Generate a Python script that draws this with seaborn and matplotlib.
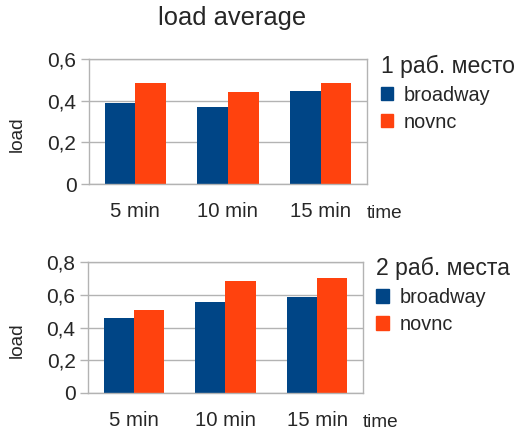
import pandas as pd
import matplotlib
matplotlib.use("Agg")
import matplotlib.pyplot as plt
import seaborn as sns
from matplotlib.patches import Patch

intervals = ["5 min", "10 min", "15 min"]
clients = ["broadway", "novnc"]
one_seat_broadway = [0.39, 0.37, 0.445]
one_seat_novnc = [0.483, 0.443, 0.483]
two_seat_broadway = [0.457, 0.555, 0.585]
two_seat_novnc = [0.507, 0.681, 0.702]
top_ticks = [0, 0.2, 0.4, 0.6]
top_labels = ["0", "0,2", "0,4", "0,6"]
bottom_ticks = [0, 0.2, 0.4, 0.6, 0.8]
bottom_labels = ["0", "0,2", "0,4", "0,6", "0,8"]
colors = ["#004586", "#ff420e"]

sns.set_style("white")
plt.rcParams["font.family"] = ["Liberation Sans", "DejaVu Sans"]

def make_df(broadway, novnc):
    rows = []
    for i, name in enumerate(intervals):
        rows.append({"interval": name, "client": "broadway", "load": broadway[i]})
        rows.append({"interval": name, "client": "novnc", "load": novnc[i]})
    return pd.DataFrame(rows)

fig = plt.figure(figsize=(5.18, 4.32), dpi=100)
ax1 = fig.add_axes([89 / 518, 1 - 184 / 432, 278 / 518, 125 / 432])
ax2 = fig.add_axes([88 / 518, 1 - 393 / 432, 275 / 518, 131 / 432])

panels = [
    (ax1, make_df(one_seat_broadway, one_seat_novnc), top_ticks, top_labels, "1 раб. место", 89, 278),
    (ax2, make_df(two_seat_broadway, two_seat_novnc), bottom_ticks, bottom_labels, "2 раб. места", 88, 275),
]

for ax, df, ticks, labels, title, left_px, width_px in panels:
    sns.barplot(data=df, x="interval", y="load", hue="client", palette=colors,
                width=0.66, saturation=1, ax=ax, legend=False, linewidth=0)
    ax.set_xlim(-0.5, 2.5)
    ax.set_ylim(ticks[0], ticks[-1])
    ax.set_yticks(ticks)
    ax.set_yticklabels(labels, fontsize=15)
    ax.set_xticks([0, 1, 2])
    ax.set_xticklabels(intervals, fontsize=14.7)
    ax.set_xticks([-0.5, 0.5, 1.5, 2.5], minor=True)
    ax.tick_params(axis="x", which="major", length=0, pad=13)
    ax.tick_params(axis="x", which="minor", length=9, color="#b3b3b3", width=1)
    ax.tick_params(axis="y", length=6, color="#b3b3b3", width=1, left=True, pad=3)
    ax.yaxis.grid(True, color="#b3b3b3", linewidth=1)
    ax.set_axisbelow(True)
    for s in ax.spines.values():
        s.set_color("#b3b3b3")
        s.set_linewidth(1)
    ax.set_xlabel("")
    ax.set_ylabel("load", fontsize=13.7)
    ax.yaxis.set_label_coords((26 - left_px) / width_px, 0.4)
    ax.annotate("time", xy=(1.0, 0), xycoords="axes fraction", xytext=(0, -21),
                textcoords="offset points", fontsize=13.7, ha="left", va="center")
    handles = [Patch(color=c, label=l) for c, l in zip(colors, clients)]
    leg = ax.legend(handles=handles, title=title, loc="upper left",
                    bbox_to_anchor=(1.02, 1.1), frameon=False, fontsize=14.3,
                    title_fontsize=16.6, handlelength=0.65, handleheight=0.65,
                    handletextpad=0.5, labelspacing=0.4, borderaxespad=0)
    leg._legend_box.align = "left"

fig.text(232 / 518, 1 - 18 / 432, "load average", fontsize=18.4, ha="center", va="center")

fig.savefig("out.png", dpi=100)
